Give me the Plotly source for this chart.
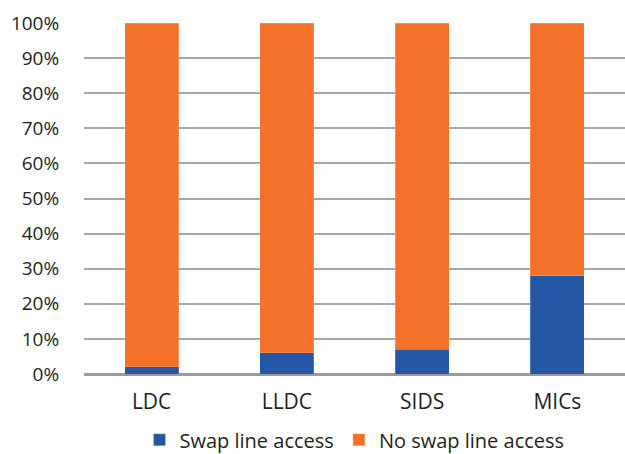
import plotly.graph_objects as go

categories = ["LDC", "LLDC", "SIDS", "MICs"]
swap = [2, 6, 7, 28]
no_swap = [98, 94, 93, 72]
tick_vals = [0, 10, 20, 30, 40, 50, 60, 70, 80, 90, 100]
tick_text = [f"{v}%" for v in tick_vals]

FONT = "Open Sans"
fig = go.Figure()
fig.add_trace(go.Bar(x=categories, y=swap, name="Swap line access",
                     marker=dict(color="#2357A5", line=dict(color="rgba(255,255,255,0.4)", width=0.5))))
fig.add_trace(go.Bar(x=categories, y=no_swap, name="No swap line access",
                     marker=dict(color="#F37128", line=dict(color="rgba(255,255,255,0.4)", width=0.5))))

fig.update_layout(
    barmode="stack",
    bargap=0.6,
    width=625, height=454,
    margin=dict(l=84, r=0, t=23, b=80, autoexpand=False),
    plot_bgcolor="white", paper_bgcolor="white",
    font=dict(family=FONT, color="#231F20", size=18),
    showlegend=True,
    legend=dict(orientation="h", x=0.5, xanchor="center", y=-0.243, yanchor="bottom",
                font=dict(size=20, family=FONT, color="#231F20"), traceorder="normal",
                itemwidth=30, borderwidth=0),
)
fig.update_xaxes(showgrid=False, showline=False, ticks="outside", ticklen=9, tickcolor="rgba(0,0,0,0)",
                 tickfont=dict(size=21, family=FONT, color="#231F20"))
fig.update_yaxes(range=[0, 100], tickvals=tick_vals, ticktext=tick_text,
                 showgrid=True, gridcolor="#A6A6A6", gridwidth=1.5,
                 zeroline=True, zerolinecolor="#9A9A9A", zerolinewidth=3,
                 showline=False, tickfont=dict(size=19, family=FONT, color="#231F20"), ticks="outside",
                 ticklen=20, tickcolor="rgba(0,0,0,0)")

fig.write_html("out.html")
